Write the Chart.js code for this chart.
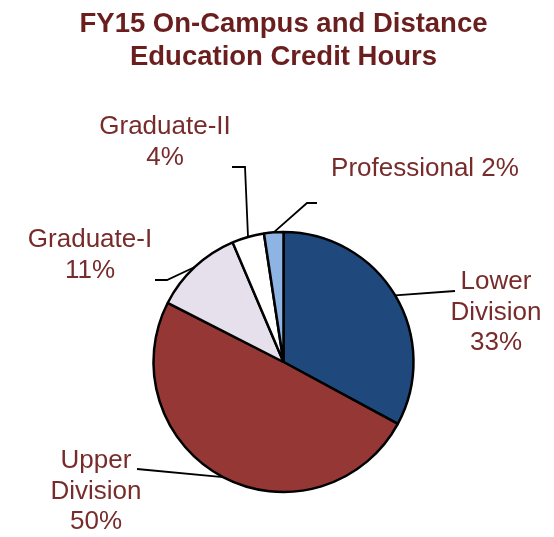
<!DOCTYPE html>
<html>
<head>
<meta charset="utf-8">
<title>FY15 Credit Hours</title>
<script src="https://cdn.jsdelivr.net/npm/chart.js@4/dist/chart.umd.min.js"></script>
<style>
  html, body { margin: 0; padding: 0; background: #ffffff; }
  #wrap { width: 554px; height: 537px; }
</style>
</head>
<body>
<div id="wrap"><canvas id="pie"></canvas></div>
<script>
// chart data (percent of total credit hours)
var categories = ["Lower Division", "Upper Division", "Graduate-I", "Graduate-II", "Professional"];
var shares = [32.9, 49.6, 11.1, 4.0, 2.4];

// label text lines (the percentage is appended from the data)
var labelLines = [["Lower", "Division"], ["Upper", "Division"], ["Graduate-I"], ["Graduate-II"], ["Professional"]];
var sliceColors = ["#1F497D", "#953735", "#E6E0EC", "#FFFFFF", "#8DB4E2"];

// where each label sits and how its leader line runs (canvas pixels)
var labelLayout = [
    { x: 496, y: 289, inline: false, path: [[455, 291]] },
    { x: 96,  y: 468, inline: false, path: [[137, 469]] },
    { x: 90,  y: 247, inline: false, path: [[167, 280], [155, 280]] },
    { x: 165, y: 134, inline: false, path: [[245, 167], [232, 167]] },
    { x: 425, y: 176, inline: true,  path: [[307, 203], [317, 203]] }
];

var total = shares.reduce(function(a, b){ return a + b; }, 0);

// draws the leader lines and the category labels
var pieLabels = {
    id: 'pieLabels',
    afterDatasetsDraw: function(chart){
        var ctx = chart.ctx;
        var arcs = chart.getDatasetMeta(0).data;
        ctx.save();
        for(var i = 0; i < arcs.length; i++){
            var p = arcs[i].getProps(['x', 'y', 'startAngle', 'endAngle', 'outerRadius'], true);
            var mid = (p.startAngle + p.endAngle) / 2;
            var ax = p.x + Math.cos(mid) * p.outerRadius;
            var ay = p.y + Math.sin(mid) * p.outerRadius;
            var lay = labelLayout[i];

            //leader line
            ctx.beginPath();
            ctx.moveTo(ax, ay);
            for(var k = 0; k < lay.path.length; k++){
                ctx.lineTo(lay.path[k][0], lay.path[k][1]);
            }
            ctx.lineWidth = 1.8;
            ctx.strokeStyle = '#000000';
            ctx.stroke();

            //label text
            var pct = Math.round(shares[i] / total * 100) + '%';
            var lines = labelLines[i].slice();
            if(lay.inline){
                lines[lines.length - 1] += ' ' + pct;
            } else {
                lines.push(pct);
            }
            ctx.font = '26px "Liberation Sans", Arial, sans-serif';
            ctx.fillStyle = '#772C2B';
            ctx.textAlign = 'center';
            ctx.textBaseline = 'alphabetic';
            for(var j = 0; j < lines.length; j++){
                ctx.fillText(lines[j], lay.x, lay.y + j * 30.5);
            }
        }
        ctx.restore();
    }
};

var ctx = document.getElementById('pie');
var chart = new Chart(ctx, {
    type: 'pie',
    data: {
        labels: categories,
        datasets: [{
            data: shares,
            backgroundColor: sliceColors,
            borderColor: '#000000',
            borderWidth: 2.5,
            hoverOffset: 0
        }]
    },
    options: {
        responsive: true,
        maintainAspectRatio: false,
        animation: false,
        radius: 130,
        layout: {
            padding: { left: 13, bottom: 10 }
        },
        plugins: {
            legend: { display: false },
            tooltip: { enabled: false },
            title: {
                display: true,
                text: ['FY15 On-Campus and Distance', 'Education Credit Hours'],
                color: '#6A1E1E',
                font: { family: '"Liberation Sans", Arial, sans-serif', size: 27.5, weight: 'bold', lineHeight: 1.2 },
                padding: { top: 8, bottom: 123 }
            }
        }
    },
    plugins: [pieLabels]
});
</script>
</body>
</html>
